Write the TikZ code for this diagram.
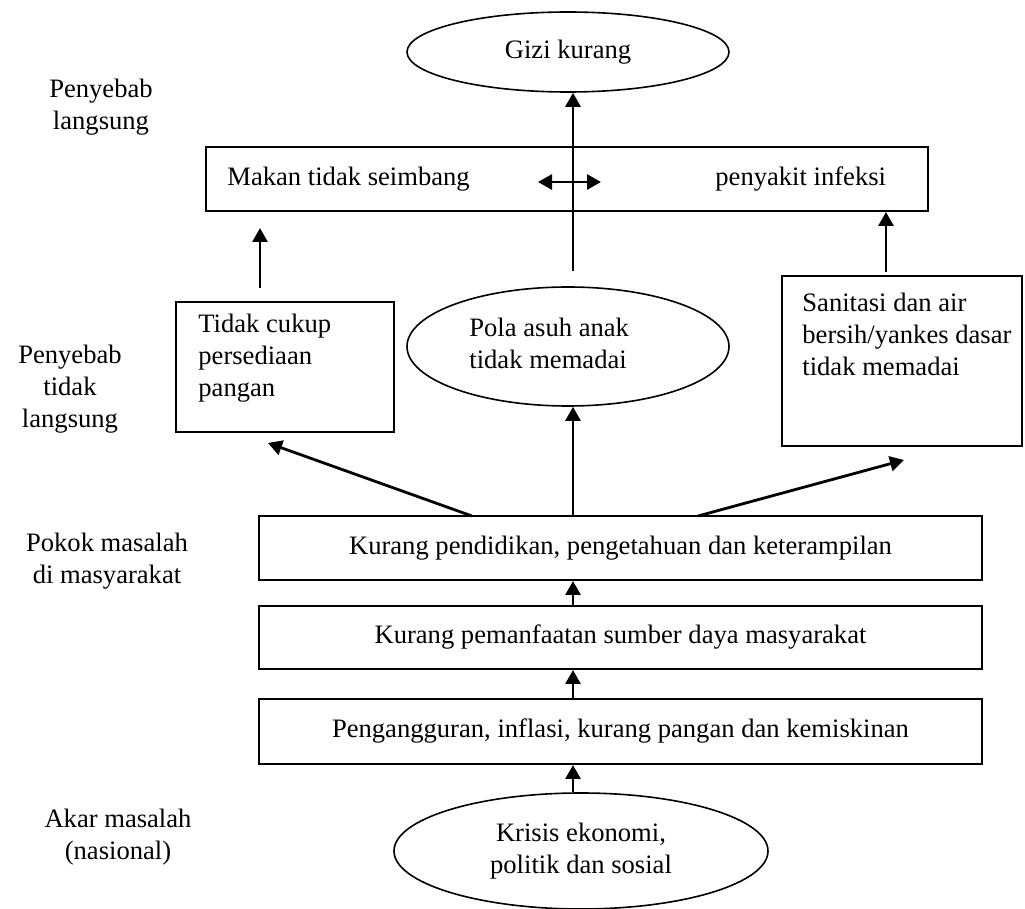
\documentclass[tikz,border=0pt]{standalone}
\usepackage{fontspec}
\setmainfont{Liberation Serif}
\usetikzlibrary{positioning,shapes.geometric,arrows.meta}

\begin{document}
\begin{tikzpicture}[x=0.5pt, y=-0.5pt,
  font=\fontsize{13.3}{16}\selectfont,
  kotak/.style={draw, line width=1pt, inner sep=0pt},
  elips/.style={draw, ellipse, line width=0.8pt, inner sep=0pt},
  panah/.style={-{Triangle[length=7pt,width=7.5pt]}, line width=1.4pt},
  teks/.style={align=left, inner sep=0pt},
  ket/.style={align=center, inner sep=0pt}]
  \useasboundingbox (0,0) rectangle (1025,909);

  % Left column: level labels
  \node[ket] (langsung) at (101,107) {Penyebab\\langsung};
  \node[ket] (taklangsung) at (70,389) {Penyebab\\tidak\\langsung};
  \node[ket] (pokok) at (107,561) {Pokok masalah\\di masyarakat};
  \node[ket] (akar) at (118,837) {Akar masalah\\(nasional)};

  % Top: outcome and direct causes
  \node[elips, minimum width=161pt, minimum height=40pt] (gizi) at (568,52) {Gizi kurang};
  \node[kotak, minimum width=361pt, minimum height=32pt] (makan) at (567,179) {};
  \node[teks, anchor=west] (makantxt) at (227,179) {Makan tidak seimbang};
  \node[teks, anchor=west] (infeksi) at (715,179) {penyakit infeksi};

  % Indirect causes
  \node[kotak, minimum width=109pt, minimum height=65pt] (pangan) at (285,367) {};
  \node[teks, anchor=west] (pangantxt) at (198,358) {Tidak cukup\\persediaan\\pangan};
  \node[elips, minimum width=161pt, minimum height=59.5pt] (pola) at (568,346.5) {};
  \node[teks, anchor=west] (polatxt) at (469,343) {Pola asuh anak\\tidak memadai};
  \node[kotak, minimum width=120pt, minimum height=85pt] (sanitasi) at (902,361) {};
  \node[teks, anchor=west] (sanitasitxt) at (802,334) {Sanitasi dan air\\bersih/yankes dasar\\tidak memadai};

  % Problems in society and root
  \node[kotak, minimum width=361.5pt, minimum height=32pt] (didik) at (620.5,548) {Kurang pendidikan, pengetahuan dan keterampilan};
  \node[kotak, minimum width=361.5pt, minimum height=31.5pt] (sumber) at (620.5,637.5) {Kurang pemanfaatan sumber daya masyarakat};
  \node[kotak, minimum width=361.5pt, minimum height=32.5pt] (nganggur) at (620.5,731.5) {Pengangguran, inflasi, kurang pangan dan kemiskinan};
  \node[elips, minimum width=187pt, minimum height=58pt, align=center] (krisis) at (581,851) {Krisis ekonomi,\\politik dan sosial};

  % Free arrow ends
  \coordinate (a1) at (573,271);
  \coordinate (d1) at (538,182);
  \coordinate (d2) at (601,182);
  \coordinate (b1) at (260,288);
  \coordinate (b2) at (260,228);
  \coordinate (c1) at (886,272);
  \coordinate (e1) at (472,516);
  \coordinate (e2) at (268,443);
  \coordinate (f1) at (573,516);
  \coordinate (g1) at (698,516);
  \coordinate (g2) at (904,460);

  % Arrows
  \draw[panah] (a1) -- (a1 |- gizi.south);
  \draw[panah, {Triangle[length=7pt,width=7.5pt]}-{Triangle[length=7pt,width=7.5pt]}] (d1) -- (d2);
  \draw[panah] (b1) -- (b2);
  \draw[panah] (c1) -- (c1 |- makan.south);
  \draw[panah] (e1) -- (e2);
  \draw[panah] (f1) -- (f1 |- pola.south);
  \draw[panah] (g1) -- (g2);
  \draw[panah] (sumber.north -| f1) -- (didik.south -| f1);
  \draw[panah] (nganggur.north -| f1) -- (sumber.south -| f1);
  \draw[panah] (krisis.north -| f1) -- (nganggur.south -| f1);
\end{tikzpicture}
\end{document}
